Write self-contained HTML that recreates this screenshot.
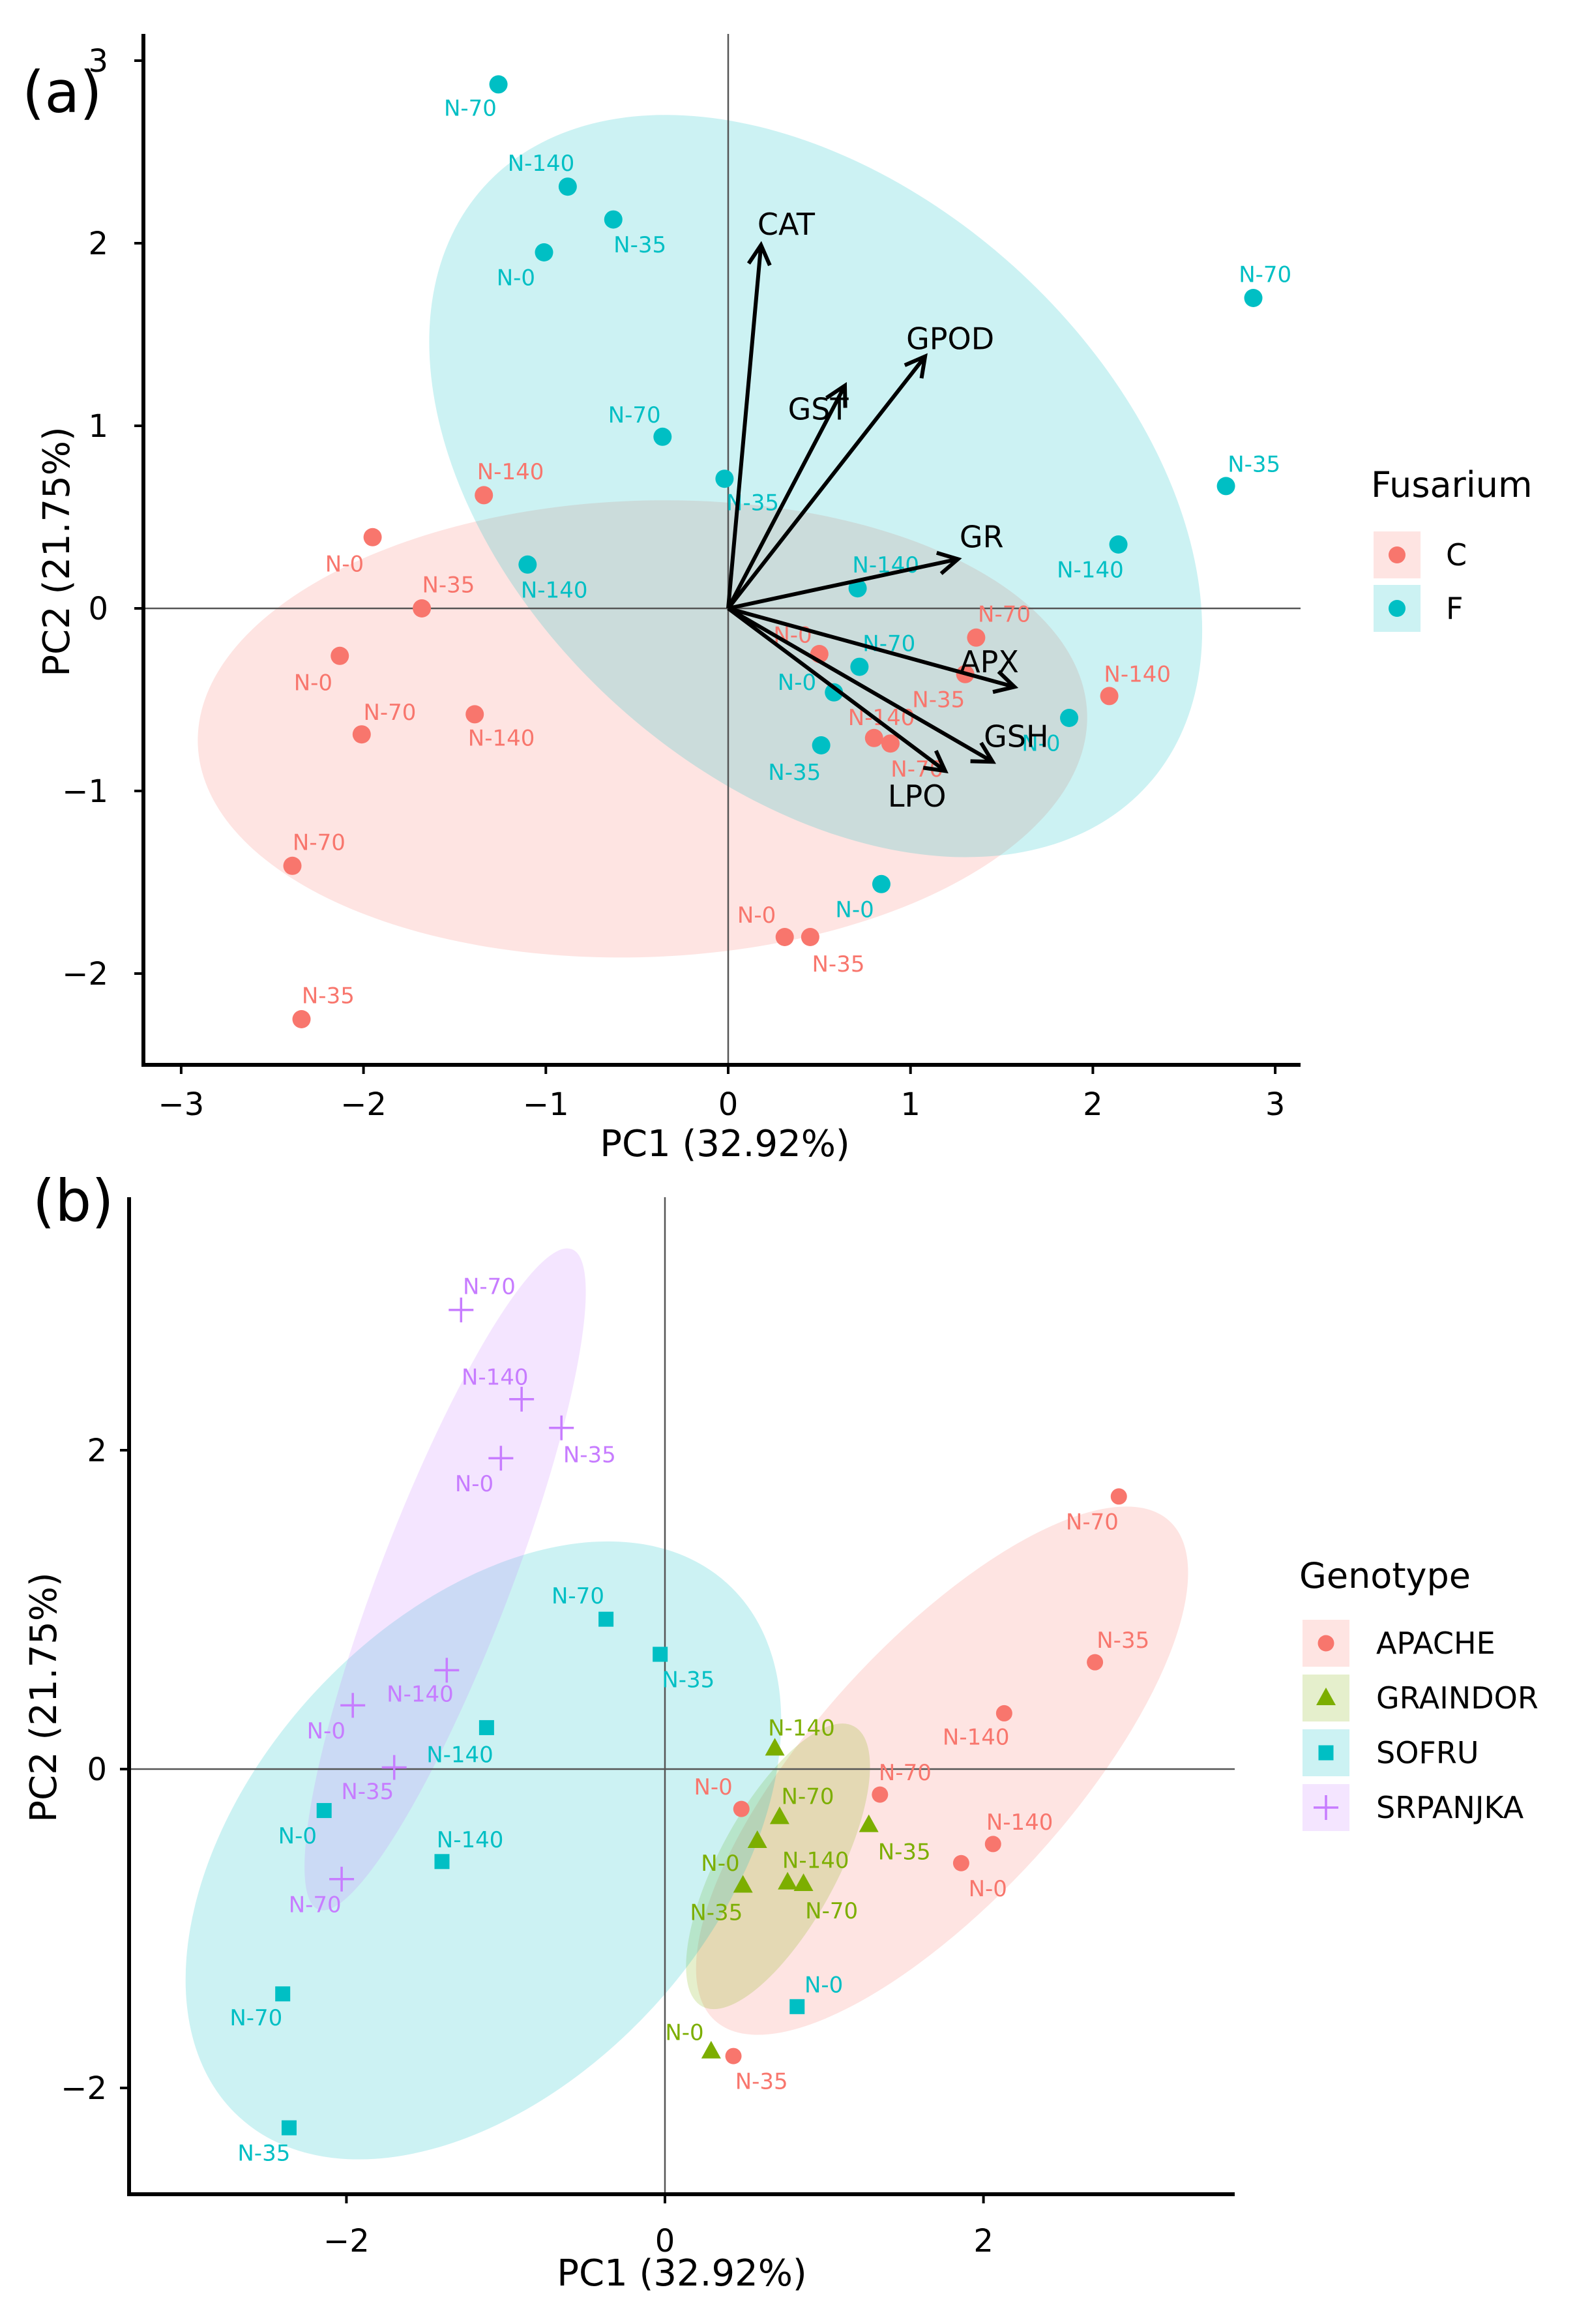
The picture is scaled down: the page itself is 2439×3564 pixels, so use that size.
<!DOCTYPE html>
<html><head><meta charset="utf-8"><style>
html,body{margin:0;padding:0;background:#fff}
svg{display:block}
text{font-family:"DejaVu Sans","Liberation Sans",sans-serif}
</style></head><body>
<svg id="chart" xmlns="http://www.w3.org/2000/svg" width="2439" height="3564" viewBox="0 0 2439 3564">
<g id="pa"></g>
<g id="pb"></g>
</svg>
<script>
// ---------- Panel (a) data ----------
const aGroups = ['C','F'];
const aX = [-1.95,-1.68,-2.13,-2.01,-1.39,-2.39,-2.34,-1.34,0.50,1.36,1.30,0.80,0.89,2.09,0.31,0.45,
            -1.26,-0.88,-0.63,-1.01,-0.36,-0.02,-1.10,0.71,0.72,0.58,0.51,0.84,2.14,1.87,2.73,2.88];
const aY = [0.39,0.00,-0.26,-0.69,-0.58,-1.41,-2.25,0.62,-0.25,-0.16,-0.36,-0.71,-0.74,-0.48,-1.80,-1.80,
            2.87,2.31,2.13,1.95,0.94,0.71,0.24,0.11,-0.32,-0.46,-0.75,-1.51,0.35,-0.60,0.67,1.70];
const aG = [0,0,0,0,0,0,0,0,0,0,0,0,0,0,0,0,1,1,1,1,1,1,1,1,1,1,1,1,1,1,1,1];
const aLab = ['N-0','N-35','N-0','N-70','N-140','N-70','N-35','N-140','N-0','N-70','N-35','N-140','N-70','N-140','N-0','N-35',
              'N-70','N-140','N-35','N-0','N-70','N-35','N-140','N-140','N-70','N-0','N-35','N-0','N-140','N-0','N-35','N-70'];
const aLdx = [-19,18,-18,19,18,18,18,18,-18,19,-18,5,18,19,-19,19, -19,-18,18,-19,-19,19,18,19,20,-25,-18,-18,-19,-19,19,8];
const aLdy = [18,-16,18,-15,16,-16,-16,-16,-13,-16,17,-14,17,-15,-15,18, 16,-16,17,17,-15,16,17,-16,-16,-7,18,17,17,17,-15,-16];
const varNames = ['CAT','GPOD','GST','GR','APX','GSH','LPO'];
const varX = [0.18,1.08,0.64,1.26,1.57,1.45,1.19];
const varY = [1.99,1.38,1.22,0.27,-0.43,-0.84,-0.89];
const varLdx = [17,17,-18,16,-17,16,-19];
const varLdy = [-14,-12,16,-15,-17,-17,17];
const aEllCx = [-0.47,0.48];
const aEllCy = [-0.66,0.67];
const aEllRx = [2.44,2.45];
const aEllRy = [1.25,1.62];
const aEllAng = [-2,42];
const aXTicks = [-3,-2,-1,0,1,2,3];
const aYTicks = [-2,-1,0,1,2,3];

// ---------- Panel (b) data ----------
const bGroups = ['APACHE','GRAINDOR','SOFRU','SRPANJKA'];
const bX = [2.85,2.70,2.13,1.35,2.06,1.86,0.48,0.43, 0.69,0.72,1.28,0.58,0.49,0.77,0.87,0.29,
            -0.37,-0.03,-1.12,-2.14,-1.40,0.83,-2.40,-2.36, -1.28,-0.90,-0.65,-1.03,-1.37,-1.96,-1.70,-2.03];
const bY = [1.71,0.67,0.35,-0.16,-0.47,-0.59,-0.25,-1.80, 0.13,-0.30,-0.35,-0.45,-0.73,-0.71,-0.72,-1.77,
            0.94,0.72,0.26,-0.26,-0.58,-1.49,-1.41,-2.25, 2.88,2.32,2.14,1.95,0.62,0.40,0.01,-0.69];
const bG = [0,0,0,0,0,0,0,0,1,1,1,1,1,1,1,1,2,2,2,2,2,2,2,2,3,3,3,3,3,3,3,3];
const bLab = ['N-70','N-35','N-140','N-70','N-140','N-0','N-0','N-35','N-140','N-70','N-35','N-0','N-35','N-140','N-70','N-0',
              'N-70','N-35','N-140','N-0','N-140','N-0','N-70','N-35','N-70','N-140','N-35','N-0','N-140','N-0','N-35','N-70'];
const bLdx = [-18,19,-19,17,18,18,-19,19, 18,19,24,-25,-18,19,19,-18, -19,19,-18,-18,19,18,-18,-17, 19,-18,19,-18,-18,-18,-18,-18];
const bLdy = [17,-15,16,-15,-15,17,-15,17, -14,-14,18,15,18,-15,18,-13, -16,17,18,17,-15,-15,16,17, -16,-15,18,17,16,17,16,17];
const bEllCx = [1.74,0.71,-1.14,-1.38];
const bEllCy = [-0.01,-0.61,-0.51,1.19];
const bEllRx = [2.12,1.0,2.27,2.22];
const bEllRy = [0.8,0.37,1.45,0.41];
const bEllAng = [-47.7,-61.5,-47.5,-69];
const bXTicks = [-2,0,2];
const bYTicks = [-2,0,2];

const COLS = ['#F8766D','#7CAE00','#00BFC4','#C77CFF'];
const AC = ['#F8766D','#00BFC4'];
const NS = 'http://www.w3.org/2000/svg';
const S = 2.27;
function mk(tag, attrs, parent){const e=document.createElementNS(NS,tag);for(const k in attrs)e.setAttribute(k,attrs[k]);parent.appendChild(e);return e;}

const ax = v => 1117 + v*279.7, ay = v => 933 - v*280;
const bx = v => 1020 + v*244.3, by = v => 2713 - v*244.5;

function frame(g, sx, sy, x0, x1, y0, y1, xt, yt, xTitle, yTitle, xtx, xty, ytx, yty, lab, lx, ly){
  let e;
  e = mk('line',{x1:sx(0),x2:sx(0),y1:y0,y2:y1,stroke:'#555','stroke-width':2.5},g);
   
  e = mk('line',{x1:x0,x2:x1,y1:sy(0),y2:sy(0),stroke:'#555','stroke-width':2.5},g);
   
  e = mk('line',{x1:x0,x2:x1,y1:y1,y2:y1,stroke:'#000','stroke-width':6},g);
   
  e = mk('line',{x1:x0,x2:x0,y1:y0,y2:y1+3,stroke:'#000','stroke-width':6},g);
   
  xt.forEach(t=>{
    const l=mk('line',{x1:sx(t),x2:sx(t),y1:y1,y2:y1+14,stroke:'#000','stroke-width':4},g);
     
    const tx=mk('text',{x:sx(t),y:xty,'text-anchor':'middle','font-size':48,fill:'#000'},g);
    tx.textContent = t<0 ? '\u2212'+Math.abs(t) : String(t);
     
  });
  yt.forEach(t=>{
    const l=mk('line',{x1:x0-14,x2:x0,y1:sy(t),y2:sy(t),stroke:'#000','stroke-width':4},g);
     
    const tx=mk('text',{x:ytx,y:sy(t)+17,'text-anchor':'end','font-size':48,fill:'#000'},g);
    tx.textContent = t<0 ? '\u2212'+Math.abs(t) : String(t);
     
  });
  e = mk('text',{x:xtx,y:xTitle.y,'text-anchor':'middle','font-size':56,fill:'#000'},g);
  e.textContent='PC1 (32.92%)';
   
  e = mk('text',{x:0,y:0,'text-anchor':'middle','font-size':56,fill:'#000',transform:`translate(${yTitle.x},${yTitle.y}) rotate(-90)`},g);
  e.textContent='PC2 (21.75%)';
   
  e = mk('text',{x:lx,y:ly,'font-size':88,fill:'#000'},g);
  e.textContent=lab;
   
}

function ellipse(g, sx, sy, cx, cy, rx, ry, ang, col, unitX, unitY){
  return mk('ellipse',{cx:sx(cx),cy:sy(cy),rx:rx*unitX,ry:ry*unitY,fill:col,'fill-opacity':0.2,
    transform:`rotate(${ang} ${sx(cx)} ${sy(cy)})`},g);
}

// ---------- Panel A ----------
const ga = document.getElementById('pa');
for(let i=0;i<aEllCx.length;i++){
  const e=ellipse(ga,ax,ay,aEllCx[i],aEllCy[i],aEllRx[i],aEllRy[i],aEllAng[i],AC[i],279.7,280);
  
  
}
frame(ga,ax,ay,220,1995,52,1633,aXTicks,aYTicks,{y:1773},{x:106,y:846},1112,1710,166,0,'(a)',34,172);
for(let i=0;i<aX.length;i++){
  const c=mk('circle',{cx:ax(aX[i]),cy:ay(aY[i]),r:14,fill:AC[aG[i]]},ga);
  
  
  const t=mk('text',{x:ax(aX[i])+aLdx[i]*S,y:ay(aY[i])+aLdy[i]*S+12,'text-anchor':'middle','font-size':34,fill:AC[aG[i]]},ga);
  t.textContent=aLab[i];
  
  
}
for(let i=0;i<varX.length;i++){
  const x1=ax(0),y1=ay(0),x2=ax(varX[i]),y2=ay(varY[i]);
  const a=Math.atan2(y2-y1,x2-x1), h=34, w=0.5;
  const p=`M${x1},${y1} L${x2},${y2} M${x2-h*Math.cos(a-w)},${y2-h*Math.sin(a-w)} L${x2},${y2} L${x2-h*Math.cos(a+w)},${y2-h*Math.sin(a+w)}`;
  const pa=mk('path',{d:p,stroke:'#000','stroke-width':6,fill:'none','stroke-linejoin':'miter'},ga);
  
  
  const t=mk('text',{x:x2+varLdx[i]*S,y:y2+varLdy[i]*S+16,'text-anchor':'middle','font-size':46,fill:'#000'},ga);
  t.textContent=varNames[i];
  
  
}
{
  let e=mk('text',{x:2103,y:762,'font-size':54,fill:'#000'},ga); e.textContent='Fusarium';
   
  [851,933].forEach((yy,i)=>{
    const r=mk('rect',{x:2107,y:yy-36,width:72,height:72,fill:AC[i],'fill-opacity':0.2},ga);
     
    const c=mk('circle',{cx:2143,cy:yy,r:13,fill:AC[i]},ga);
     
    const t=mk('text',{x:2218,y:yy+16,'font-size':46,fill:'#000'},ga); t.textContent=aGroups[i];
     
  });
}

// ---------- Panel B ----------
const gb = document.getElementById('pb');
function marker(g, gi, x, y){
  const col=COLS[gi];
  if(gi===0) return mk('circle',{cx:x,cy:y,r:12.5,fill:col},g);
  if(gi===1) return mk('path',{d:`M${x},${y-16} L${x+15},${y+11} L${x-15},${y+11} Z`,fill:col},g);
  if(gi===2) return mk('rect',{x:x-11.5,y:y-11.5,width:23,height:23,fill:col},g);
  return mk('path',{d:`M${x-19},${y} L${x+19},${y} M${x},${y-19} L${x},${y+19}`,stroke:col,'stroke-width':3.5,fill:'none'},g);
}
for(let i=0;i<bEllCx.length;i++){
  const e=ellipse(gb,bx,by,bEllCx[i],bEllCy[i],bEllRx[i],bEllRy[i],bEllAng[i],COLS[i],244.3,244.5);
  
  
}
frame(gb,bx,by,198,1894,1836,3365,bXTicks,bYTicks,{y:3505},{x:86,y:2603},1046,3453,164,0,'(b)',50,1872);
for(let i=0;i<bX.length;i++){
  const m=marker(gb,bG[i],bx(bX[i]),by(bY[i]));
  
  
  const t=mk('text',{x:bx(bX[i])+bLdx[i]*S,y:by(bY[i])+bLdy[i]*S+12,'text-anchor':'middle','font-size':34,fill:COLS[bG[i]]},gb);
  t.textContent=bLab[i];
  
  
}
{
  let e=mk('text',{x:1993,y:2435,'font-size':54,fill:'#000'},gb); e.textContent='Genotype';
   
  [2520,2604,2688,2772].forEach((yy,i)=>{
    const r=mk('rect',{x:1998,y:yy-36,width:72,height:72,fill:COLS[i],'fill-opacity':0.2},gb);
     
    const m=marker(gb,i,2034,yy);
     
    const t=mk('text',{x:2111,y:yy+16,'font-size':46,fill:'#000'},gb); t.textContent=bGroups[i];
     
  });
}
</script>
</body></html>
